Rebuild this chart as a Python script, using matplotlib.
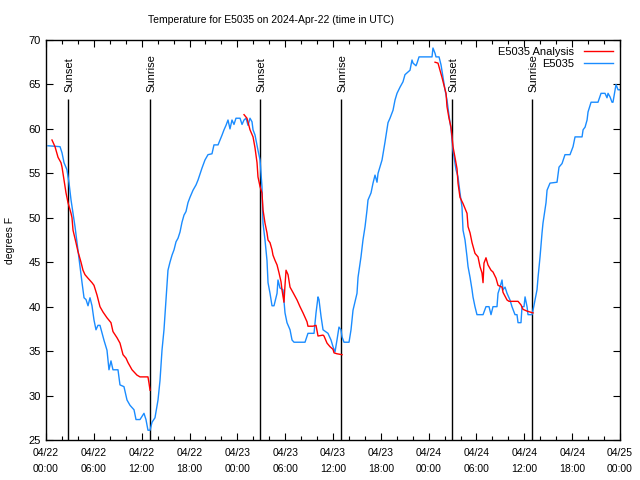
import numpy as np
import matplotlib
matplotlib.use("Agg")
import matplotlib.pyplot as plt
from matplotlib.ticker import MultipleLocator

# hours since 2024-04-22 00:00 UTC
obs_hours = [
    0.25, 1.76, 2.01, 2.26, 2.63, 2.89, 3.14, 3.39, 3.64, 3.89, 4.26, 4.52, 4.77,
    5.02, 5.27, 5.52, 5.77, 6.02, 6.27, 6.52, 6.77, 7.28, 7.65, 7.90, 8.15, 8.40,
    9.03, 9.28, 9.78, 10.16, 10.54, 11.04, 11.29, 11.79, 12.29, 12.54, 12.79,
    13.05, 13.30, 13.67, 14.05, 14.30, 14.55, 14.80, 15.05, 15.30, 15.55, 15.81,
    16.06, 16.31, 16.56, 16.81, 17.06, 17.31, 17.56, 17.81, 18.06, 18.44, 18.82,
    19.07, 19.57, 19.94, 20.32, 20.82, 21.07, 21.58, 21.83, 22.08, 22.33, 22.58,
    22.83, 23.08, 23.33, 23.58, 23.83, 24.34, 24.59, 24.84, 25.09, 25.34, 25.59,
    25.84, 25.97, 26.22, 26.59, 26.85, 27.09, 27.22, 27.47, 27.72, 27.85, 28.10,
    28.35, 28.60, 28.98, 29.10, 29.35, 29.73, 29.98, 30.23, 30.61, 30.86, 31.11,
    32.49, 32.86, 33.62, 33.87, 34.12, 34.24, 34.50, 34.75, 35.37, 35.75, 36.00,
    36.25, 36.50, 36.75, 37.00, 37.13, 37.38, 38.01, 38.26, 38.51, 39.01, 39.14,
    39.51, 39.76, 40.02, 40.27, 40.39, 40.77, 41.02, 41.27, 41.52, 41.65, 42.15,
    42.52, 42.90, 43.15, 43.53, 43.78, 44.03, 44.41, 44.78, 45.03, 45.66, 45.91,
    46.04, 46.41, 46.54, 46.79, 48.42, 48.54, 48.80, 48.92, 49.30, 49.55, 49.80,
    50.05, 50.30, 50.55, 50.80, 51.05, 51.43, 51.68, 51.93, 52.18, 52.31, 52.56,
    52.81, 52.94, 53.19, 53.44, 53.56, 53.81, 54.06, 54.82, 55.19, 55.57, 55.82,
    56.07, 56.57, 56.70, 56.95, 57.20, 57.33, 57.58, 57.83, 58.20, 58.45, 58.83,
    59.08, 59.21, 59.58, 59.71, 59.96, 60.09, 60.34, 60.46, 60.96, 61.09, 61.34,
    61.59, 61.72, 61.97, 62.22, 62.34, 62.72, 62.85, 63.22, 64.10, 64.35, 64.73,
    65.10, 65.73, 66.11, 66.36, 67.24, 67.37, 67.62, 67.87, 67.99, 68.37, 69.24,
    69.62, 70.12, 70.37, 70.50, 70.75, 71.00, 71.12, 71.50, 71.75, 72.00,
]
obs_temp = [
    58.1, 58.0, 57.3, 56.2, 55.4, 53.9, 52.0, 50.5, 49.0, 47.2, 44.5, 42.7, 41.0,
    40.8, 40.1, 41.0, 40.1, 38.5, 37.4, 37.9, 37.9, 36.2, 35.1, 32.9, 33.9, 32.9,
    32.9, 31.2, 31.0, 29.5, 28.9, 28.4, 27.3, 27.3, 28.0, 27.3, 26.1,
    26.1, 27.0, 27.5, 29.5, 31.7, 35.1, 37.4, 40.8, 44.1, 45.0, 45.8,
    46.4, 47.3, 47.7, 48.4, 49.5, 50.3, 50.7, 51.7, 52.3, 53.1, 53.7,
    54.25, 55.6, 56.5, 57.1, 57.2, 58.2, 58.2, 58.75, 59.3, 59.9, 60.4,
    61.0, 60.0, 61.0, 60.5, 61.2, 61.2, 60.5, 61.0, 61.2, 60.4, 61.2,
    60.8, 59.9, 59.3, 57.6, 56.5, 53.5, 49.4, 47.5, 45.2, 42.7, 41.5,
    40.1, 40.1, 41.5, 43.0, 42.1, 41.9, 39.3, 38.2, 37.4, 36.25, 36.0,
    36.0, 37.0, 37.0, 39.3, 41.1, 40.8, 38.9, 37.4, 37.0, 36.25, 35.5,
    34.9, 36.25, 37.7, 37.4, 36.6, 36.0, 36.0, 37.4, 39.6, 41.5, 43.3,
    45.6, 47.5, 49.0, 50.9, 52.0, 52.8, 53.9, 54.8, 54.0, 55.0, 56.5,
    58.5, 60.7, 61.2, 62.1, 63.25, 64.0, 64.7, 65.3, 66.1, 66.6, 67.75,
    67.4, 67.1, 67.4, 68.1, 68.1, 69.1, 68.5, 68.1, 68.1, 67.2, 65.8,
    64.4, 63.25, 61.5, 60.0, 57.6, 55.4, 54.6, 52.8, 51.2, 48.6, 47.5,
    45.6, 44.5, 43.3, 41.9, 41.1, 40.0, 39.1, 39.1, 40.0, 40.0, 39.1,
    40.0, 40.0, 41.5, 42.2, 43.0, 41.9, 42.2, 41.5, 40.75, 40.0, 39.1,
    39.1, 38.2, 38.2, 40.0, 40.0, 41.1, 40.0, 39.1, 39.1, 39.6, 40.75,
    41.9, 43.3, 45.6, 48.3, 49.4, 51.7, 53.1, 53.9, 54.0, 55.7, 56.1,
    57.1, 57.1, 58.0, 59.1, 59.1, 59.9, 60.2, 61.0, 61.9, 63.0, 63.0,
    64.0, 64.0, 63.5, 64.0, 63.6, 63.0, 63.0, 65.0, 64.4, 64.4,
]

# analysis series, three night-time segments
ana1_hours = [0.75, 1.13, 1.51, 1.88, 2.01, 2.26, 2.51, 2.76, 3.14, 3.26, 3.39,
              3.76, 4.01, 4.39, 4.64, 4.89, 5.27, 5.77, 6.02, 6.40, 6.77, 7.15,
              7.65, 8.15, 8.40, 8.91, 9.28, 9.66, 10.04, 10.29, 10.79, 11.41,
              11.79, 12.79, 12.92, 13.05]
ana1_temp = [58.75, 58.0, 56.8, 56.2, 55.7, 54.25, 52.8, 51.7, 50.5, 50.0, 48.6,
             47.2, 46.2, 45.0, 44.1, 43.6, 43.2, 42.7, 42.4, 41.3, 40.0, 39.4,
             38.75, 38.2, 37.2, 36.5, 35.9, 34.6, 34.2, 33.7, 32.9, 32.3,
             32.1, 32.1, 31.4, 30.6]
ana2_hours = [24.84, 25.21, 25.59, 25.97, 26.22, 26.47, 26.59, 26.85, 27.09,
              27.22, 27.47, 27.72, 27.85, 28.10, 28.35, 28.47, 28.73, 28.98,
              29.23, 29.48, 29.60, 29.85, 29.98, 30.11, 30.36, 30.61, 30.98,
              31.49, 31.86, 32.24, 32.74, 32.86, 33.49, 33.87, 34.12, 34.75,
              34.87, 35.25, 35.62, 36.00, 36.13, 36.50, 37.13]
ana2_temp = [61.6, 61.2, 59.9, 59.1, 57.85, 56.2, 54.6, 53.5, 52.8,
             50.9, 49.4, 48.3, 47.5, 47.2, 46.4, 45.8, 45.2, 44.7,
             43.8, 42.8, 41.9, 40.5, 42.4, 44.1, 43.6, 42.2, 41.6,
             40.75, 40.0, 39.3, 38.3, 37.8, 37.8, 37.9, 36.7, 36.8,
             36.7, 35.9, 35.5, 35.2, 34.8, 34.7, 34.6]
ana3_hours = [48.80, 49.17, 49.42, 49.67, 49.92, 50.18, 50.30, 50.55, 50.80,
              50.93, 51.05, 51.30, 51.56, 51.68, 51.93, 52.31, 52.81, 52.94,
              53.19, 53.44, 53.81, 54.19, 54.44, 54.69, 54.82, 54.94, 55.19,
              55.44, 55.82, 56.07, 56.45, 56.70, 57.20, 57.33, 57.83, 58.08,
              59.21, 59.58, 59.83, 60.34, 60.71, 61.09]
ana3_temp = [67.5, 67.4, 66.6, 65.8, 64.9, 64.0, 62.5, 61.2, 60.2,
             59.1, 58.0, 56.8, 55.5, 53.9, 52.3, 51.6, 50.5, 49.0,
             48.3, 47.2, 46.0, 45.6, 44.5, 43.8, 42.7, 44.9, 45.5,
             44.7, 44.1, 43.9, 43.2, 42.4, 42.2, 41.6, 40.75, 40.6,
             40.6, 40.2, 39.7, 39.5, 39.4, 39.3]

sun_hours = [2.80, 13.05, 26.89, 37.04, 50.97, 61.0]
sun_names = ["Sunset", "Sunrise", "Sunset", "Sunrise", "Sunset", "Sunrise"]

tick_labels = ["04/22\n00:00", "04/22\n06:00", "04/22\n12:00", "04/22\n18:00",
               "04/23\n00:00", "04/23\n06:00", "04/23\n12:00", "04/23\n18:00",
               "04/24\n00:00", "04/24\n06:00", "04/24\n12:00", "04/24\n18:00",
               "04/25\n00:00"]

plt.rcParams["font.family"] = ["Liberation Sans", "DejaVu Sans"]
plt.rcParams["font.size"] = 7.5

fig = plt.figure(figsize=(6.4, 4.8), dpi=100)
ax = fig.add_axes([46 / 640, 40 / 480, 574 / 640, 400 / 480])

red = "#ff0000"
blue = "#1a8cff"

ana_h = ana1_hours + [np.nan] + ana2_hours + [np.nan] + ana3_hours
ana_t = ana1_temp + [np.nan] + ana2_temp + [np.nan] + ana3_temp
ax.plot(ana_h, ana_t, color=red, lw=1.0, label="E5035 Analysis", zorder=3)
ax.plot(obs_hours, obs_temp, color=blue, lw=1.0, label="E5035", zorder=2)

ax.vlines(sun_hours, 25, 63.4, color="black", lw=1.0, zorder=1)
for h, name in zip(sun_hours, sun_names):
    ax.text(h + 0.2, 64.1, name, rotation=90, ha="center", va="bottom", fontsize=8)

ax.set_xlim(0, 72)
ax.set_ylim(25, 70)
ax.set_xticks(np.arange(0, 73, 6))
ax.set_xticklabels(tick_labels, linespacing=1.7)
ax.xaxis.set_minor_locator(MultipleLocator(2))
ax.yaxis.set_major_locator(MultipleLocator(5))
ax.tick_params(direction="in", top=True, right=True, length=5, width=0.8)
ax.tick_params(which="minor", direction="in", top=True, length=3, width=0.8)
ax.tick_params(axis="x", pad=6)
ax.tick_params(axis="y", labelsize=8)
for s in ax.spines.values():
    s.set_linewidth(1.0)

ax.set_ylabel("degrees F", labelpad=10)
fig.text(271 / 640, 1 - 20 / 480, "Temperature for E5035 on 2024-Apr-22 (time in UTC)",
         ha="center", va="center", fontsize=7.5)

ax.legend(loc="upper right", frameon=False, markerfirst=False, handlelength=2.6,
          handletextpad=0.9, borderaxespad=0.2, labelspacing=0.2, fontsize=8)

fig.savefig("out.png", dpi=100)
